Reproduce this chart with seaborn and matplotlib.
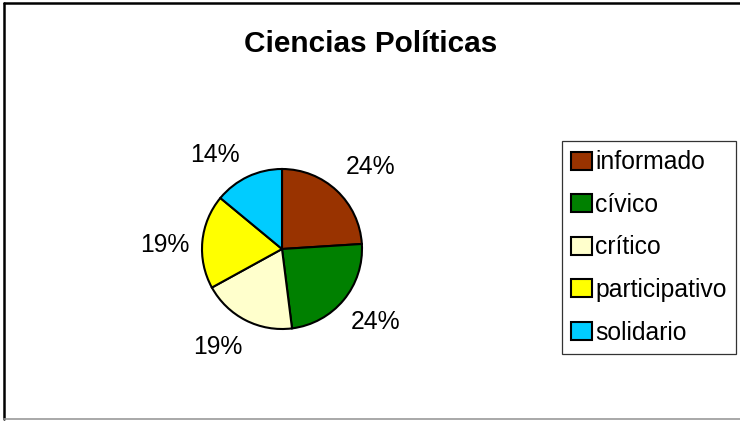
import matplotlib
matplotlib.use("Agg")
import matplotlib.pyplot as plt
from matplotlib.lines import Line2D
from matplotlib.patches import Patch
import seaborn as sns

# Chart data
categories = ["informado", "cívico", "crítico", "participativo", "solidario"]
percentages = [24, 24, 19, 19, 14]
colors = ["#993300", "#008000", "#FFFFCC", "#FFFF00", "#00CCFF"]
title = "Ciencias Políticas"

sns.set_theme(style="white")
plt.rcParams["font.family"] = ["Liberation Sans", "DejaVu Sans"]

W, H = 740, 421
fig = plt.figure(figsize=(W / 100, H / 100), dpi=100)
fig.patch.set_facecolor("white")

# Pie axes: centre (282, 249) px, radius 80 px
cx, cy, r = 282, 249, 80
ax = fig.add_axes([(cx - r) / W, (H - cy - r) / H, 2 * r / W, 2 * r / H])
wedges, texts, autotexts = ax.pie(
    percentages,
    colors=colors,
    startangle=90,
    counterclock=False,
    autopct="%.0f%%",
    pctdistance=1.47,
    wedgeprops=dict(edgecolor="black", linewidth=1.5),
    textprops=dict(fontsize=17.8, color="black"),
)
# small nudges of the percentage labels (in pie radius units)
nudges = [(0.1, -0.05), (0.04, 0.025), (-0.14, 0.09), (0.0, -0.09), (-0.21, -0.15)]
for t, (dx, dy) in zip(autotexts, nudges):
    x, y = t.get_position()
    t.set_position((x + dx, y + dy))
    t.set_ha("center")
    t.set_va("center")
ax.set_xlim(-1, 1)
ax.set_ylim(-1, 1)
ax.set_aspect("equal")
ax.axis("off")

fig.text(371 / W, 1 - 44 / H, title, ha="center", va="center",
         fontsize=21.4, fontweight="bold", color="black")

# Legend with square keys
handles = [Patch(facecolor=c, edgecolor="black", linewidth=1.5) for c in colors]
leg = fig.legend(
    handles, categories,
    loc="center",
    bbox_to_anchor=((562 + 736) / 2 / W, 1 - (142 + 353) / 2 / H),
    fontsize=17.8, labelcolor="black",
    frameon=True, fancybox=False, framealpha=1,
    edgecolor="#333333",
    handlelength=0.85, handleheight=0.75, handletextpad=0.12,
    labelspacing=0.75, borderpad=0.37, borderaxespad=0,
)
leg.get_frame().set_linewidth(0.9)

# Outer chart border: left/top dark, bottom grey
fig.add_artist(Line2D([4 / W, 4 / W], [1 - 3 / H, 1 - 419 / H], color="black", linewidth=1.8, transform=fig.transFigure))
fig.add_artist(Line2D([4 / W, 1], [1 - 3 / H, 1 - 3 / H], color="black", linewidth=1.8, transform=fig.transFigure))
fig.add_artist(Line2D([4 / W, 1], [1 - 419 / H, 1 - 419 / H], color="#999999", linewidth=1.2, transform=fig.transFigure))

fig.savefig("out.png", dpi=100, facecolor="white")
